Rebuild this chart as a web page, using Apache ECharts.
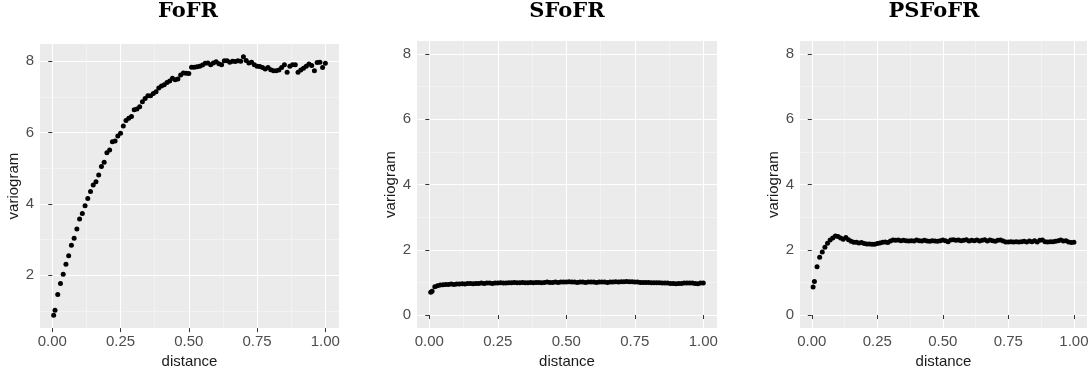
<!DOCTYPE html>
<html>
<head>
<meta charset="utf-8">
<script src="https://cdn.jsdelivr.net/npm/echarts@6/dist/echarts.min.js"></script>
<style>
  html, body { margin: 0; padding: 0; background: #fff; }
  #chart { width: 1092px; height: 374px; }
</style>
</head>
<body>
<div id="chart"></div>
<script>
// lag distances (shared by all three panels)
var distance = [0.005, 0.01, 0.02, 0.03, 0.04, 0.05, 0.06, 0.07, 0.08, 0.09,
  0.10, 0.11, 0.12, 0.13, 0.14, 0.15, 0.16, 0.17, 0.18, 0.19,
  0.20, 0.21, 0.22, 0.23, 0.24, 0.25, 0.26, 0.27, 0.28, 0.29,
  0.30, 0.31, 0.32, 0.33, 0.34, 0.35, 0.36, 0.37, 0.38, 0.39,
  0.40, 0.41, 0.42, 0.43, 0.44, 0.45, 0.46, 0.47, 0.48, 0.49,
  0.50, 0.51, 0.52, 0.53, 0.54, 0.55, 0.56, 0.57, 0.58, 0.59,
  0.60, 0.61, 0.62, 0.63, 0.64, 0.65, 0.66, 0.67, 0.68, 0.69,
  0.70, 0.71, 0.72, 0.73, 0.74, 0.75, 0.76, 0.77, 0.78, 0.79,
  0.80, 0.81, 0.82, 0.83, 0.84, 0.85, 0.86, 0.87, 0.88, 0.89,
  0.90, 0.91, 0.92, 0.93, 0.94, 0.95, 0.96, 0.97, 0.98, 0.99, 1.00]

var fofr = [0.88, 1.02, 1.46, 1.77, 2.03, 2.31, 2.55, 2.84, 3.04, 3.30,
  3.58, 3.73, 3.95, 4.15, 4.35, 4.53, 4.62, 4.81, 5.05, 5.17,
  5.43, 5.51, 5.74, 5.76, 5.90, 5.98, 6.18, 6.34, 6.40, 6.45,
  6.64, 6.66, 6.72, 6.86, 6.95, 7.03, 7.03, 7.09, 7.14, 7.25,
  7.30, 7.34, 7.40, 7.44, 7.52, 7.48, 7.50, 7.61, 7.67, 7.66,
  7.65, 7.83, 7.83, 7.84, 7.86, 7.89, 7.94, 7.95, 7.90, 7.95,
  7.98, 7.93, 7.90, 8.01, 8.01, 7.97, 8.00, 7.99, 8.01, 8.00,
  8.12, 8.02, 7.95, 7.97, 7.90, 7.86, 7.85, 7.82, 7.78, 7.82,
  7.76, 7.73, 7.73, 7.75, 7.82, 7.90, 7.69, 7.86, 7.90, 7.90,
  7.69, 7.75, 7.80, 7.86, 7.92, 7.88, 7.73, 7.96, 7.97, 7.82, 7.94]

var sfofr = [0.70, 0.73, 0.87, 0.90, 0.92, 0.93, 0.94, 0.94, 0.95, 0.94,
  0.95, 0.95, 0.96, 0.95, 0.97, 0.97, 0.96, 0.97, 0.97, 0.98,
  0.97, 0.98, 0.98, 0.97, 0.98, 0.98, 0.99, 0.98, 0.98, 0.99,
  0.99, 1.00, 0.99, 0.99, 1.00, 0.99, 0.99, 1.00, 0.99, 1.00,
  1.00, 0.99, 1.00, 1.01, 1.00, 1.00, 1.01, 1.00, 1.01, 1.01,
  1.01, 1.02, 1.01, 1.01, 1.00, 1.01, 1.01, 1.00, 1.01, 1.01,
  1.01, 1.00, 1.01, 1.01, 1.01, 1.00, 1.01, 1.01, 1.02, 1.01,
  1.02, 1.02, 1.03, 1.02, 1.02, 1.01, 1.01, 1.00, 1.00, 1.00,
  1.00, 0.99, 0.99, 0.99, 0.99, 0.98, 0.98, 0.98, 0.97, 0.97,
  0.96, 0.97, 0.97, 0.98, 0.98, 0.98, 0.98, 0.97, 0.96, 0.98, 0.98]

var psfofr = [0.86, 1.03, 1.48, 1.77, 1.93, 2.08, 2.20, 2.30, 2.36, 2.42,
  2.41, 2.36, 2.32, 2.38, 2.31, 2.26, 2.23, 2.23, 2.21, 2.22,
  2.19, 2.18, 2.18, 2.17, 2.17, 2.19, 2.21, 2.23, 2.24, 2.22,
  2.27, 2.30, 2.29, 2.30, 2.28, 2.29, 2.28, 2.27, 2.28, 2.27,
  2.30, 2.28, 2.27, 2.29, 2.27, 2.26, 2.28, 2.27, 2.26, 2.28,
  2.30, 2.28, 2.25, 2.30, 2.31, 2.29, 2.30, 2.28, 2.29, 2.31,
  2.27, 2.29, 2.28, 2.30, 2.27, 2.29, 2.31, 2.27, 2.30, 2.28,
  2.26, 2.29, 2.30, 2.27, 2.24, 2.24, 2.25, 2.24, 2.25, 2.24,
  2.25, 2.26, 2.24, 2.27, 2.25, 2.28, 2.24, 2.29, 2.30, 2.25,
  2.24, 2.25, 2.25, 2.26, 2.28, 2.30, 2.27, 2.28, 2.24, 2.22, 2.23]

var titles = ['FoFR', 'SFoFR', 'PSFoFR']
var xTicks = [0, 0.25, 0.5, 0.75, 1]
var xMinor = [0.125, 0.375, 0.625, 0.875]
var yTicks = [0, 2, 4, 6, 8]
var yMinor = [1, 3, 5, 7]

// panel boxes and axis ranges (ggplot-style expanded limits)
var panels = [
  { left: 40, top: 44, width: 299, height: 288, ymin: 0.52, ymax: 8.48, titleX: 188, data: fofr },
  { left: 417, top: 41, width: 300, height: 291, ymin: -0.4, ymax: 8.4, titleX: 567, data: sfofr },
  { left: 800, top: 41, width: 287, height: 289, ymin: -0.4, ymax: 8.4, titleX: 934, data: psfofr }
]

var font = 'Liberation Sans, Arial, sans-serif'
var grid = [], xAxis = [], yAxis = [], series = [], title = []

panels.forEach(function (p, i) {
  grid.push({ left: p.left, top: p.top, width: p.width, height: p.height,
    show: true, backgroundColor: '#ebebeb', borderWidth: 0 })

  title.push({
    text: titles[i], left: p.titleX, top: 1, textAlign: 'center', padding: 0,
    textStyle: { fontFamily: 'DejaVu Serif', fontWeight: 'bold', fontSize: 21, color: '#000' }
  })

  // main x axis: ticks, labels, major grid
  xAxis.push({
    gridIndex: i, type: 'value', min: -0.045, max: 1.05,
    name: 'distance', nameLocation: 'middle', nameGap: 20,
    nameTextStyle: { color: '#1a1a1a', fontSize: 15, fontFamily: font },
    axisLine: { show: false },
    axisTick: { show: true, length: 4, customValues: xTicks, lineStyle: { color: '#333', width: 1 } },
    axisLabel: {
      customValues: xTicks, margin: 6, color: '#4d4d4d', fontSize: 15, fontFamily: font,
      formatter: function (v) { return v.toFixed(2) }
    },
    splitLine: { show: true, lineStyle: { color: '#fff', width: 1.1 } }
  })
  // minor x grid
  xAxis.push({
    gridIndex: i, type: 'value', min: -0.045, max: 1.05, position: 'bottom',
    axisLine: { show: false }, axisLabel: { show: false },
    axisTick: { show: false, customValues: xMinor },
    splitLine: { show: true, lineStyle: { color: '#f7f7f7', width: 0.6 } }
  })

  var yt = yTicks.filter(function (v) { return v >= p.ymin && v <= p.ymax })
  yAxis.push({
    gridIndex: i, type: 'value', min: p.ymin, max: p.ymax,
    name: 'variogram', nameLocation: 'middle', nameGap: 18,
    nameTextStyle: { color: '#1a1a1a', fontSize: 15, fontFamily: font },
    axisLine: { show: false },
    axisTick: { show: true, length: 4, customValues: yt, lineStyle: { color: '#333', width: 1 } },
    axisLabel: { customValues: yt, margin: 6, color: '#4d4d4d', fontSize: 15, fontFamily: font },
    splitLine: { show: true, lineStyle: { color: '#fff', width: 1.1 } }
  })
  // minor y grid
  yAxis.push({
    gridIndex: i, type: 'value', min: p.ymin, max: p.ymax, position: 'left',
    axisLine: { show: false }, axisLabel: { show: false },
    axisTick: { show: false, customValues: yMinor },
    splitLine: { show: true, lineStyle: { color: '#f7f7f7', width: 0.6 } }
  })

  series.push({
    type: 'scatter', xAxisIndex: 2 * i, yAxisIndex: 2 * i,
    symbol: 'circle', symbolSize: 5,
    itemStyle: { color: '#000', opacity: 1 },
    silent: true,
    data: distance.map(function (d, k) { return [d, p.data[k]] })
  })
})

var myChart = echarts.init(document.getElementById('chart'))
myChart.setOption({
  animation: false,
  title: title,
  grid: grid,
  xAxis: xAxis,
  yAxis: yAxis,
  series: series
})
</script>
</body>
</html>
